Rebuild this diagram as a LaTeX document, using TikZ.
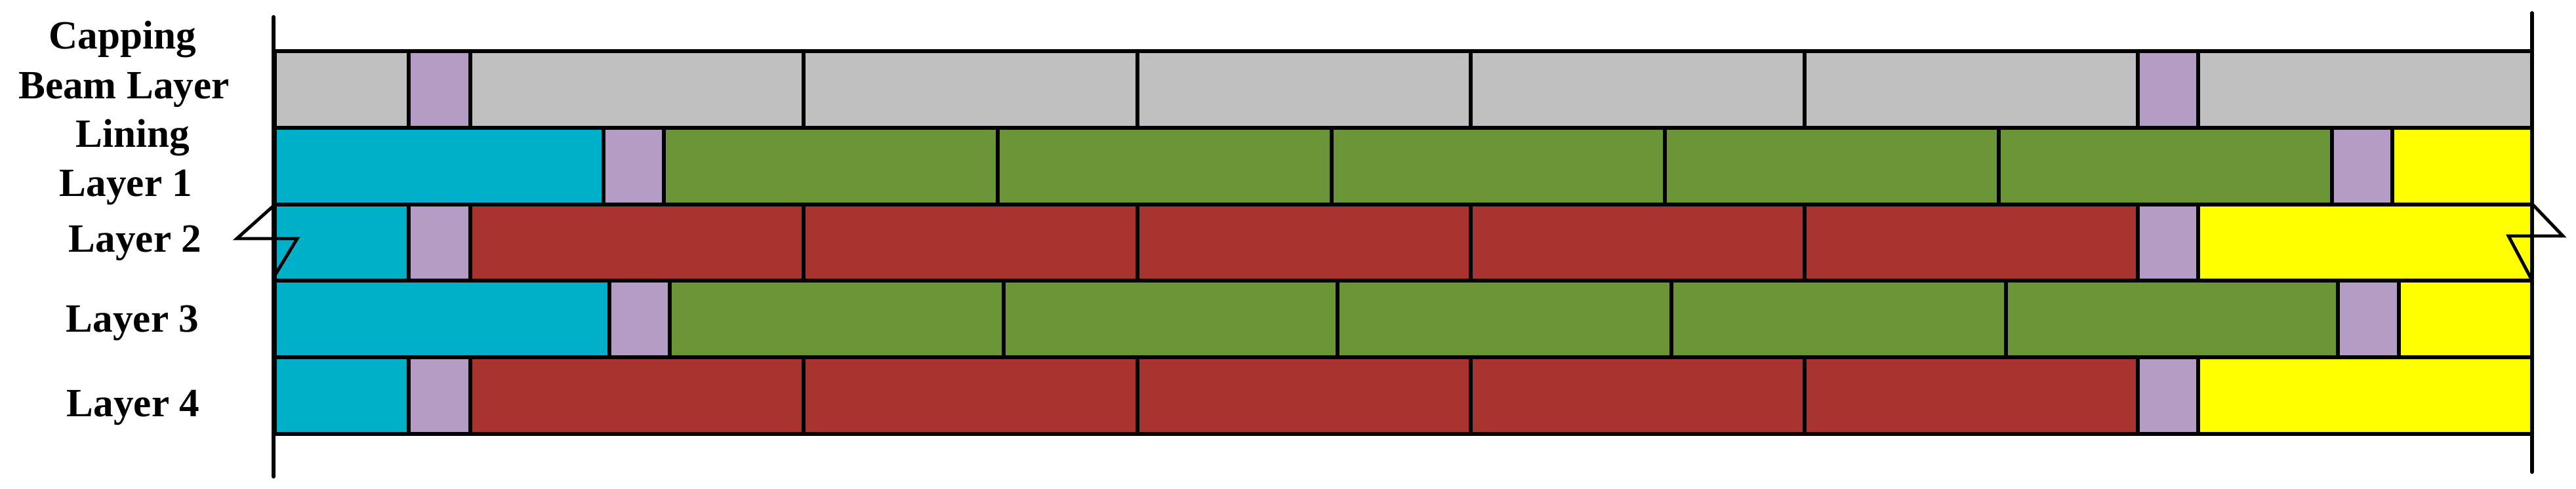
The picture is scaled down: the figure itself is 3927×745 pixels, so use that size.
\documentclass[tikz,border=0pt]{standalone}
\usepackage{fontspec}
\setmainfont{Liberation Serif}
\definecolor{cg}{HTML}{C0C0C0}
\definecolor{pu}{HTML}{B49CC4}
\definecolor{cy}{HTML}{00AFC8}
\definecolor{gr}{HTML}{6B9638}
\definecolor{rd}{HTML}{A8342F}
\definecolor{ye}{HTML}{FFFF00}
\newcommand\rowblocks[3]{\foreach \a/\b/\c in {#3}{\filldraw[blk,fill=\c] (\a,#1) rectangle (\b,#2);}}
\begin{document}
\begin{tikzpicture}[x=0.01cm,y=-0.01cm,
  blk/.style={draw=black,line width=1.7pt},
  edge/.style={draw=black,line width=1.7pt,line cap=round},
  zig/.style={draw=black,line width=1.4pt,line join=miter},
  lbl/.style={font=\fontsize{17.4}{20}\selectfont\bfseries,anchor=base,inner sep=0pt}]
\useasboundingbox (0,0) rectangle (3927,745);
% rows
\rowblocks{78}{195}{419/623/cg,623/717/pu,717/1225/cg,1225/1734/cg,1734/2242/cg,2242/2751/cg,2751/3259/cg,3259/3351/pu,3351/3860/cg}
\rowblocks{195}{312}{419/920/cy,920/1012/pu,1012/1521/gr,1521/2030/gr,2030/2538/gr,2538/3047/gr,3047/3555/gr,3555/3647/pu,3647/3860/ye}
\rowblocks{312}{428}{419/623/cy,623/717/pu,717/1225/rd,1225/1734/rd,1734/2242/rd,2242/2751/rd,2751/3259/rd,3259/3351/pu,3351/3860/ye}
\rowblocks{428}{545}{419/929/cy,929/1021/pu,1021/1530/gr,1530/2039/gr,2039/2548/gr,2548/3058/gr,3058/3564/gr,3564/3657/pu,3657/3860/ye}
\rowblocks{545}{662}{419/623/cy,623/717/pu,717/1225/rd,1225/1734/rd,1734/2242/rd,2242/2751/rd,2751/3259/rd,3259/3351/pu,3351/3860/ye}
% boundary lines
\coordinate (lt) at (417,26);
\coordinate (lb) at (417,727);
\coordinate (rt) at (3860,20);
\coordinate (rb) at (3860,720);
\draw[edge] (lt) -- (lb);
\draw[edge] (rt) -- (rb);
% break marks
\coordinate (l1) at (417,314);
\coordinate (l2) at (361,364);
\coordinate (l3) at (453,364);
\coordinate (l4) at (416,425);
\draw[zig] (l1) -- (l2) -- (l3) -- (l4);
\coordinate (r1) at (3860,311);
\coordinate (r2) at (3907,360);
\coordinate (r3) at (3824,360);
\coordinate (r4) at (3858,424);
\draw[zig] (r1) -- (r2) -- (r3) -- (r4);
% labels
\node[lbl] (t1) at (187,74) {Capping};
\node[lbl] (t2) at (189,150) {Beam Layer};
\node[lbl] (t3) at (202,224) {Lining};
\node[lbl] (t4) at (192,299) {Layer 1};
\node[lbl] (t5) at (206,384) {Layer 2};
\node[lbl] (t6) at (202,506) {Layer 3};
\node[lbl] (t7) at (203,635) {Layer 4};
\end{tikzpicture}
\end{document}
